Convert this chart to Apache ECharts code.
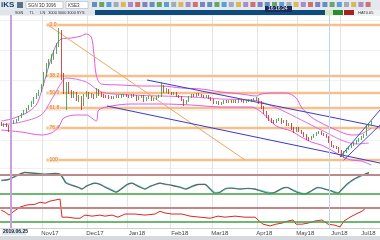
<!DOCTYPE html>
<html><head><meta charset="utf-8">
<script src="https://cdn.jsdelivr.net/npm/echarts@6/dist/echarts.min.js"></script>
<style>html,body{margin:0;padding:0;background:#fff}#c{width:380px;height:240px}</style>
</head><body><div id="c"></div>
<script>
const N = 152;
const monthText = ['Nov17','Dec17','Jan18','Feb18','Mar18','Apr18','May18','Jun18','Jul18'];
const monthIndex = [16,34,51,68,84,102,118,132,144];
const gridBreaks = [17,35,51,68,85,103,119,136];
// [open, close, low, high]
const candles = [
[47,45,44,48],[45,46,43,47],[46,44,43,47],[44,42,38,45],[42,47,41,48],[47,48,46,50],[48,50,47,51],[50,53,49,54],
[53,56,52,57],[56,58,55,60],[59,61,57,62],[61,64,60,65],[64,68,63,69],[68,72,66,73],[73,75,71,77],[75,79,74,80],
[79,84,78,86],[85,95,84,98],[96,104,93,107],[106,108,102,111],[108,112,106,116],[113,117,110,120],[118,124,116,127],[125,138,123,142],
[137,95,90,140],[95,80,76,97],[64,86,60,88],[86,78,76,88],[78,74,72,80],[74,77,72,79],[77,71,69,78],[71,73,68,75],
[73,66,60,74],[66,75,64,76],[75,77,73,79],[77,73,71,78],[73,75,72,77],[75,73,71,76],[73,80,72,82],[80,76,74,81],
[76,75,73,78],[75,74,72,76],[74,73,72,75],[74,73,71,75],[73,72,71,74],[72,73,71,74],[73,74,72,75],[74,73,72,75],
[73,74,72,76],[74,75,73,76],[75,74,73,76],[74,73,72,75],[73,75,72,76],[75,74,73,76],[74,71,69,75],[71,73,70,74],
[73,74,72,75],[74,70,68,75],[70,72,69,73],[72,73,71,74],[73,70,69,74],[70,71,69,72],[71,73,70,74],[73,74,72,75],
[74,84,73,88],[84,78,77,85],[78,80,77,82],[80,77,76,81],[77,76,75,78],[76,77,75,78],[77,74,73,78],[74,73,72,75],
[73,70,69,74],[70,67,64,71],[67,69,66,70],[69,73,68,74],[73,75,72,76],[75,74,73,76],[74,76,73,77],[76,75,74,77],
[75,74,73,76],[74,73,72,75],[73,74,72,75],[74,72,71,75],[72,70,69,73],[70,67,66,71],[67,68,66,69],[68,66,65,69],
[66,67,65,68],[67,69,66,70],[69,68,67,70],[68,69,67,70],[69,68,67,70],[68,69,67,70],[69,68,67,70],[68,70,67,71],
[70,69,68,71],[69,68,67,70],[68,69,67,70],[69,70,68,71],[70,69,68,71],[69,70,68,72],[70,71,69,73],[71,68,66,72],
[68,63,61,69],[63,58,56,64],[58,54,52,59],[54,51,49,55],[51,49,47,52],[49,48,46,50],[48,50,47,51],[50,51,49,52],
[51,48,46,52],[48,49,47,50],[49,45,44,50],[45,46,44,47],[46,42,40,47],[42,39,37,43],[39,42,38,43],[42,39,38,43],
[39,37,36,40],[37,35,33,38],[35,32,30,36],[32,31,29,33],[31,33,30,34],[33,35,32,36],[35,37,34,38],[37,38,36,39],
[38,36,35,39],[36,35,34,37],[35,33,32,36],[33,28,27,34],[28,24,23,29],[24,23,22,25],[23,22,21,24],[22,19,17,23],
[19,15,13,20],[14,18,12,19],[18,21,17,22],[21,23,20,24],[23,25,22,26],[25,27,24,28],[27,29,26,30],[29,31,28,32],
[31,33,30,34],[33,35,32,36],[35,44,34,45],[44,46,43,47],[46,47,45,49]
];
const upperBand = [[0,49],[4,51],[10,57],[14,65],[16,78],[18,95],[20,112],[22,125],[24,131],[28,132],[32,134],[34,136],[36,133],[37,118],[38,95],[40,86],[48,85],[56,84],[64,84],[72,82],[80,81],[88,78],[96,76],[102,74],[104,76],[108,77],[114,77],[118,72],[120,63],[124,53],[128,47],[134,40],[140,35],[144,36],[148,42]];
const middleBand = [[0,45],[8,48],[16,55],[20,70],[24,87],[26,92],[34,88],[40,78],[52,75],[64,74],[76,73],[88,71],[100,70],[104,68],[112,60],[120,50],[128,40],[136,30],[142,26],[147,27]];
const lowerBand = [[0,40],[8,38],[16,35],[20,37],[23,43],[25,52],[30,55],[34,55],[38,49],[39,60],[44,64],[52,66],[64,66],[76,65],[88,63],[100,63],[104,58],[110,44],[116,39],[120,33],[124,28],[128,25],[132,20],[136,14],[140,10],[144,9],[148,5]];
const fibLevels = [145,94,77,62,42,10];
const fibNames = ['0.0','38.2','50.0','61.8','76.4','100'];
const fibStart = 18.3;
const fibDiagonal = [[18.7,145],[97.5,10]];
const channelUpper = [[58.3,90],[151.5,43]];
const channelLower = [[42.3,64],[151.5,7]];
const riseA = [[135.5,13],[151.5,60]];
const riseB = [[137,10],[151.5,45]];
const cursorIndex = 3.9;
const markerIndex = 131.1;
const oscIdx = [0,3,5.5,9.5,13.5,17.5,21.5,23.5,24.7,25.9,28.3,30.7,32.3,33.9,35.5,37.5,39.5,41.5,44.3,45.9,48.3,50.3,52.3,54.7,57.5,59.5,61.5,63.5,65.9,68.3,71.5,73.9,76.3,78.7,81.5,83.5,85.5,87.5,89.9,92.3,95.5,98.7,101.5,104.3,107.5,109.5,112.3,114.3,116.7,119.5,121.5,124.3,126.7,129.5,132.3,134.7,136.3,138.7,141.5,144.3,146.3,147.1];
const oscMain = [61,64,74,86,83,80,83,80,67,52,45,39,33,42,48,52,48,39,29,23,36,48,52,42,33,42,48,52,48,45,39,33,42,48,48,33,20,23,36,36,33,36,33,26,20,23,36,39,29,20,17,29,39,33,26,20,33,52,67,77,83,86];
const oscSignal = [60,63,72,85,84,81,82,81,70,55,46,40,35,41,47,51,49,41,31,25,34,46,51,44,35,41,47,51,49,45,40,35,40,47,48,36,23,24,34,37,34,35,34,28,22,23,34,38,31,22,19,28,37,34,28,22,31,49,65,76,82,85];
const oscLevels = [80,20];
const rsiIdx = [0,1.5,3.1,5.1,7.5,10.3,13.5,15.5,17.5,19.5,21.5,23.5,24.3,26.7,29.5,31.5,33.5,36.3,39.5,41.5,44.3,46.7,49.5,53.5,57.5,61.5,63.5,65.5,68.3,72.3,75.5,79.5,83.5,86.7,89.5,93.5,97.5,101.5,102.7,104.7,107.5,109.9,112.3,114.7,116.7,117.9,120.3,122.7,125.5,128.3,130.7,133.5,135.5,137.1,139.5,141.9,144.3,146.3];
const rsiValues = [64,59,50,61,73,79,81,87,84,90,93,96,44,44,41,41,50,47,50,47,50,44,53,53,50,53,61,56,53,53,47,44,41,47,44,47,44,44,36,24,19,24,27,33,36,24,24,27,33,36,24,21,16,33,44,53,61,73];
const rsiLevels = [70,30];

const cats = Array.from({length:N}, (_, i) => { const k = monthIndex.indexOf(i); return k >= 0 ? monthText[k] : ''; });
const zip = (a, b) => a.map((x, i) => [x, b[i]]);
const FONT = 'Liberation Sans, DejaVu Sans, sans-serif';

function vlines(){
  return {silent:true, symbol:'none', label:{show:false}, animation:false,
    data:[{xAxis:cursorIndex, lineStyle:{color:'#c9a0dc', width:2, type:'solid'}},
          {xAxis:markerIndex, lineStyle:{color:'#bcd6ee', width:1, type:'solid'}}]};
}
function catAxis(g, showLabels){
  return {type:'category', gridIndex:g, data:cats, boundaryGap:true,
    axisLine:{show:showLabels, lineStyle:{color:'#cfcfcf'}}, axisTick:{show:false},
    axisLabel:{show:showLabels, interval:(i, v) => v !== '', fontSize:6, color:'#444', align:'left', margin:2, fontFamily:FONT},
    splitLine:{show:true, interval:(i) => gridBreaks.indexOf(i) >= 0, lineStyle:{color:'#e4e4e4', width:1}}};
}
function valAxis(g){ return {type:'value', gridIndex:g, min:-0.5, max:N-0.5, show:false}; }

const series = [];
[[upperBand,'#e35ae3'],[middleBand,'#e070e0'],[lowerBand,'#e35ae3']].forEach(([d,c], k) => series.push({
  type:'line', xAxisIndex:1, yAxisIndex:0, data:d, symbol:'none', smooth:0.3, silent:true,
  lineStyle:{color:c, width:1}, markLine: k === 0 ? vlines() : undefined
}));
fibLevels.forEach((lv, k) => series.push({
  type:'line', xAxisIndex:1, yAxisIndex:0, silent:true,
  data:[{value:[fibStart, lv], symbol:'rect', symbolSize:[1,3],
         label:{show:true, formatter:fibNames[k], position:'right', distance:1, fontSize:5, color:'#d0782a',
                backgroundColor:'#fde0c4', padding:[0,1], fontFamily:FONT}},
        {value:[N-0.5, lv], symbol:'none'}],
  lineStyle:{color:'#f6c08c', width:2.5}, itemStyle:{color:'#f6c08c'}, z:1
}));
[[fibDiagonal,'#f0a65e',1],[channelUpper,'#3a3acc',1],[channelLower,'#3a3acc',1],[riseA,'#4a4ad8',1],[riseB,'#4a4ad8',1]].forEach(([d,c,w]) => series.push({
  type:'line', xAxisIndex:1, yAxisIndex:0, data:d, symbol:'none', silent:true, lineStyle:{color:c, width:w}, z:3
}));
series.push({type:'candlestick', xAxisIndex:0, yAxisIndex:0, data:candles, barWidth:1.2, silent:true, z:4,
  itemStyle:{color:'#1f9e2a', color0:'#d0201e', borderColor:'#1f9e2a', borderColor0:'#d0201e', borderWidth:0.8}});
series.push({type:'line', xAxisIndex:3, yAxisIndex:1, data:zip(oscIdx, oscSignal), symbol:'none', smooth:0.2, silent:true,
  lineStyle:{color:'#55d6d6', width:1.2},
  markLine:{silent:true, symbol:'none', label:{show:false},
    data:[{yAxis:oscLevels[0], lineStyle:{color:'#b98b8b', width:2, type:'solid'}},
          {yAxis:oscLevels[1], lineStyle:{color:'#3fa040', width:1.5, type:'solid'}},
          {xAxis:cursorIndex, lineStyle:{color:'#c9a0dc', width:2, type:'solid'}},
          {xAxis:markerIndex, lineStyle:{color:'#bcd6ee', width:1, type:'solid'}}]}});
series.push({type:'line', xAxisIndex:3, yAxisIndex:1, data:zip(oscIdx, oscMain), symbol:'none', smooth:0.2, silent:true,
  lineStyle:{color:'#5f6363', width:1.1}});
series.push({type:'line', xAxisIndex:5, yAxisIndex:2, data:zip(rsiIdx, rsiValues), symbol:'none', silent:true,
  lineStyle:{color:'#e0261e', width:1},
  markLine:{silent:true, symbol:'none', label:{show:false},
    data:[{yAxis:rsiLevels[0], lineStyle:{color:'#c58585', width:2, type:'solid'}},
          {yAxis:rsiLevels[1], lineStyle:{color:'#3fa040', width:1.5, type:'solid'}},
          {xAxis:cursorIndex, lineStyle:{color:'#c9a0dc', width:2, type:'solid'}},
          {xAxis:markerIndex, lineStyle:{color:'#bcd6ee', width:1, type:'solid'}}]}});

const icons = [];
const pal = ['#3b6fae','#8a96a4','#c54848','#3c8f3c','#d8a526','#5b5fb0','#2f86c9','#9a6ab8'];
for (let k = 0; k < 40; k++) {
  const x = 92 + k * 7.2;
  if (x > 372) break;
  icons.push({type:'rect', shape:{x:x, y:2, width:5, height:5}, style:{fill:pal[(k*3) % pal.length], opacity:0.75}});
}
const graphics = [
  {type:'rect', shape:{x:0,y:0,width:380,height:10}, style:{fill:'#e4e9ee'}},
  {type:'text', x:1, y:1, style:{text:'iKS', fontSize:8, fontWeight:'bold', fill:'#1b3c6c', fontFamily:FONT}},
  {type:'rect', shape:{x:17,y:2,width:6,height:6}, style:{fill:'#5c6f86'}},
  {type:'rect', shape:{x:26,y:1.5,width:37,height:7}, style:{fill:'#fff', stroke:'#9aa6b2', lineWidth:0.5}},
  {type:'text', x:28, y:3, style:{text:'SGN 3D 3096', fontSize:4.5, fill:'#333', fontFamily:FONT}},
  {type:'rect', shape:{x:66,y:1.5,width:22,height:7}, style:{fill:'#fff', stroke:'#9aa6b2', lineWidth:0.5}},
  {type:'text', x:68, y:3, style:{text:'KSE3', fontSize:4.5, fill:'#333', fontFamily:FONT}},
  ...icons,
  {type:'rect', shape:{x:0,y:10,width:95,height:5}, style:{fill:'#dfe5eb'}},
  {type:'text', x:15, y:10.5, style:{text:'SGN      TL      LN   3000 3000 3000 SYS', fontSize:3.8, fill:'#333', fontFamily:FONT}},
  {type:'rect', shape:{x:95,y:10,width:230,height:5}, style:{fill:'#0e4c7e'}},
  {type:'rect', shape:{x:325,y:10,width:8,height:5}, style:{fill:'#cfe8c0'}},
  {type:'rect', shape:{x:333,y:10,width:10,height:5}, style:{fill:'#2e8a2e'}},
  {type:'rect', shape:{x:344,y:10,width:10,height:5}, style:{fill:'#a52222'}},
  {type:'rect', shape:{x:354,y:10,width:26,height:5}, style:{fill:'#eef0f2'}},
  {type:'text', x:358, y:10.5, style:{text:'HAT0.65', fontSize:4, fill:'#333', fontFamily:FONT}},
  {type:'rect', shape:{x:265,y:6,width:27,height:6}, style:{fill:'#1c2a5a'}},
  {type:'text', x:268, y:6.5, style:{text:'16:16:24', fontSize:5, fill:'#fff', fontFamily:FONT}},
  {type:'rect', shape:{x:0,y:236,width:380,height:4}, style:{fill:'#d6dade'}},
  {type:'rect', shape:{x:2,y:228.5,width:24,height:6.5}, style:{fill:'#dde7f4'}, z:10},
  {type:'text', x:3, y:229.5, style:{text:'2019.06.25', fontSize:5, fontWeight:'bold', fill:'#222', fontFamily:FONT}, z:11}
];

const chart = echarts.init(document.getElementById('c'), null, {renderer:'canvas', width:380, height:240});
chart.setOption({
  animation:false,
  backgroundColor:'#ffffff',
  grid:[
    {left:0, right:0, top:15, height:153},
    {left:0, right:0, top:168, height:30},
    {left:0, right:0, top:198, height:30}
  ],
  xAxis:[catAxis(0,false), valAxis(0), catAxis(1,false), valAxis(1), catAxis(2,true), valAxis(2)],
  yAxis:[
    {type:'value', gridIndex:0, min:2, max:155, axisLine:{show:false}, axisTick:{show:false}, axisLabel:{show:false},
     splitLine:{show:true, lineStyle:{color:'#f1f1f1'}}},
    {type:'value', gridIndex:1, min:5, max:100, show:false},
    {type:'value', gridIndex:2, min:13, max:99, show:false}
  ],
  series:series,
  graphic:graphics
});
</script>
</body></html>
